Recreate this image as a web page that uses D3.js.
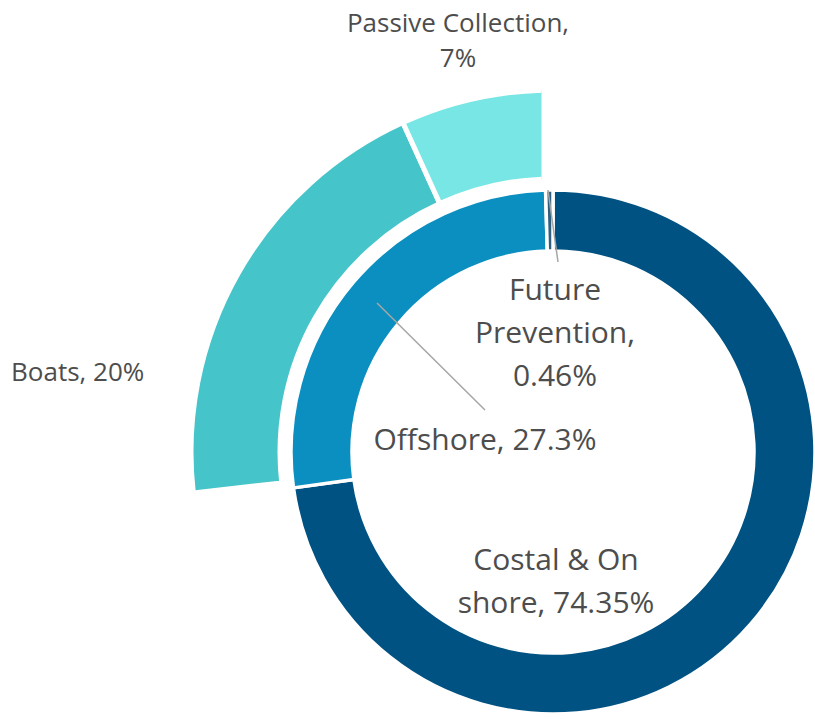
<!DOCTYPE html>
<html>
<head>
<meta charset="utf-8">
<script src="https://cdn.jsdelivr.net/npm/d3@7"></script>
<style>
  html, body { margin: 0; padding: 0; background: #ffffff; }
  svg { display: block; }
  text { font-family: "Open Sans", "Lato", sans-serif; fill: #4d4d4d; }
</style>
</head>
<body>
<script>
// Inner ring: where clean-up effort goes
const innerCategories = ["Costal & On shore", "Offshore", "Future Prevention"];
const innerValues = [74.35, 27.3, 0.46];
const innerColors = ["#005282", "#0b8fc0", "#2f5f7f"];

// Outer ring: breakdown of offshore effort (percent of a full circle)
const outerCategories = ["Boats", "Passive Collection"];
const outerValues = [20, 7];
const outerColors = ["#45c4c9", "#78e6e4"];

// Label text for each slice
const labelLines = {
  "Costal & On shore": ["Costal & On", "shore, 74.35%"],
  "Offshore": ["Offshore, 27.3%"],
  "Future Prevention": ["Future", "Prevention,", "0.46%"],
  "Boats": ["Boats, 20%"],
  "Passive Collection": ["Passive Collection,", "7%"]
};

const W = 815, H = 719;
const cx = 553, cy = 452;

const svg = d3.select("body").append("svg")
  .attr("width", W).attr("height", H);

// ---- inner donut ----
const innerPie = d3.pie().sort(null).value(d => d.value);
const innerData = innerPie(innerCategories.map((c, i) => ({ name: c, value: innerValues[i], color: innerColors[i] })));
const innerArc = d3.arc().innerRadius(201).outerRadius(262);

const g = svg.append("g").attr("transform", `translate(${cx},${cy})`);

g.selectAll("path.inner").data(innerData).join("path")
  .attr("class", "inner")
  .attr("d", innerArc)
  .attr("fill", d => d.data.color)
  .attr("stroke", "#ffffff")
  .attr("stroke-width", 3.5)
  .attr("stroke-linejoin", "miter");

// ---- outer ring (offshore breakdown) ----
// Remaining share of the circle is left empty so that the two slices sit above Offshore.
const rest = 100 - d3.sum(outerValues);
const outerRows = [{ name: "rest", value: rest, color: "none" }]
  .concat(outerCategories.map((c, i) => ({ name: c, value: outerValues[i], color: outerColors[i] })));
const rot = 0.7 * Math.PI / 180;
const outerPie = d3.pie().sort(null).value(d => d.value).startAngle(rot).endAngle(2 * Math.PI + rot);
const outerData = outerPie(outerRows).filter(d => d.data.name !== "rest");
const outerArc = d3.arc().innerRadius(273).outerRadius(362);

svg.append("clipPath").attr("id", "outerClip")
  .append("rect").attr("x", -cx).attr("y", -cy).attr("width", cx - 11.5).attr("height", H);

g.append("g").attr("clip-path", "url(#outerClip)")
  .selectAll("path.outer").data(outerData).join("path")
  .attr("class", "outer")
  .attr("d", outerArc)
  .attr("fill", d => d.data.color)
  .attr("stroke", "#ffffff")
  .attr("stroke-width", 5);

// ---- leader lines ----
const leaders = [
  { from: [377 - cx, 303 - cy], to: [485 - cx, 410 - cy] },
  { from: [548 - cx, 190 - cy], to: [558 - cx, 262 - cy] }
];
g.selectAll("line.leader").data(leaders).join("line")
  .attr("class", "leader")
  .attr("x1", d => d.from[0]).attr("y1", d => d.from[1])
  .attr("x2", d => d.to[0]).attr("y2", d => d.to[1])
  .attr("stroke", "#a6a6a6").attr("stroke-width", 1.5);

// ---- labels ----
const labelPlacement = [
  { name: "Passive Collection", x: 458, y: 32, size: 26, lh: 35 },
  { name: "Boats", x: 11, y: 381, size: 26, lh: 35, anchor: "start" },
  { name: "Future Prevention", x: 555, y: 300, size: 30, lh: 43 },
  { name: "Offshore", x: 485, y: 450, size: 30, lh: 43 },
  { name: "Costal & On shore", x: 556, y: 570, size: 30, lh: 43 }
];

labelPlacement.forEach(p => {
  const t = svg.append("text")
    .attr("x", p.x).attr("y", p.y)
    .attr("text-anchor", p.anchor || "middle")
    .style("font-size", p.size + "px");
  labelLines[p.name].forEach((line, i) => {
    t.append("tspan").attr("x", p.x).attr("dy", i === 0 ? 0 : p.lh).text(line);
  });
});
</script>
</body>
</html>
